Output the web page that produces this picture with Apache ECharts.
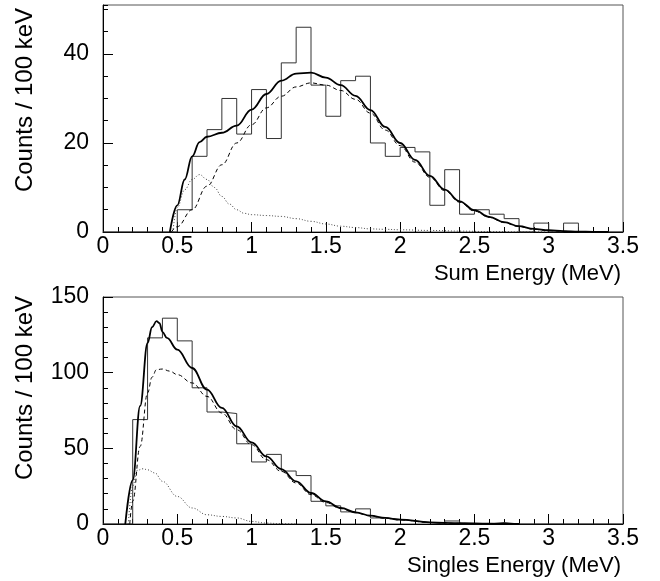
<!DOCTYPE html>
<html>
<head>
<meta charset="utf-8">
<script src="https://cdn.jsdelivr.net/npm/echarts@6/dist/echarts.min.js"></script>
<style>
  html, body { margin: 0; padding: 0; background: #fff; }
  #chart { width: 660px; height: 581px; }
</style>
</head>
<body>
<div id="chart"></div>
<script>
// Bin low edges (MeV), 100 keV wide, plus the final upper edge
const binEdges = [0, 0.1, 0.2, 0.3, 0.4, 0.5, 0.6, 0.7, 0.8, 0.9, 1.0, 1.1, 1.2, 1.3, 1.4, 1.5, 1.6, 1.7,
  1.8, 1.9, 2.0, 2.1, 2.2, 2.3, 2.4, 2.5, 2.6, 2.7, 2.8, 2.9, 3.0, 3.1, 3.2, 3.3, 3.4, 3.5];

// Sum-energy spectrum: counts per bin
const sumCounts = [0, 0, 0, 0, 0, 5, 17, 23, 30, 22, 32, 21, 38, 46, 33, 26, 34, 35,
  20, 17, 19, 18, 6, 14, 4, 5, 4, 3, 0, 2, 0, 2, 0, 0, 0];

// Singles-energy spectrum: counts per bin
const singlesCounts = [0, 0, 69, 123, 136, 121, 90, 74, 73, 53, 41, 46, 35, 32, 15, 12, 8, 10,
  4, 3, 2, 1, 0, 2, 0, 0, 1, 0, 0, 0, 0, 0, 0, 0, 0];

// Fit curves, sum energy: total, main component (dashed), second component (dotted)
const sumTotal = [[0.45, 0], [0.5, 6], [0.55, 11.8], [0.6, 17.0], [0.65, 20.2], [0.7, 21.4], [0.8, 22.3],
  [0.9, 23.9], [1.0, 27.5], [1.1, 31.0], [1.2, 34.0], [1.3, 35.6], [1.4, 35.8], [1.5, 34.7], [1.6, 33.0],
  [1.7, 30.6], [1.8, 27.4], [1.9, 23.6], [2.0, 20.0], [2.1, 16.2], [2.2, 12.6], [2.3, 9.5], [2.4, 6.9],
  [2.5, 4.9], [2.6, 3.4], [2.7, 2.2], [2.8, 1.3], [2.9, 0.7], [3.0, 0.4], [3.1, 0.2], [3.2, 0.1],
  [3.3, 0.05], [3.4, 0]];
const sumMain = [[0.46, 0], [0.5, 1.2], [0.6, 5.0], [0.7, 10.3], [0.8, 15.1], [0.9, 20.0], [1.0, 24.1],
  [1.1, 27.9], [1.2, 30.5], [1.3, 32.6], [1.4, 33.5], [1.5, 33.0], [1.6, 31.8], [1.7, 29.8], [1.8, 26.7],
  [1.9, 22.9], [2.0, 19.4], [2.1, 15.7], [2.2, 12.3], [2.3, 9.3], [2.4, 6.7], [2.5, 4.7], [2.6, 3.3],
  [2.7, 2.1], [2.8, 1.2], [2.9, 0.6], [3.0, 0.3], [3.1, 0.15], [3.2, 0.05], [3.3, 0]];
const sumSecond = [[0.47, 0], [0.5, 5.5], [0.55, 9.5], [0.6, 11.8], [0.65, 12.9], [0.7, 11.8], [0.75, 10.0],
  [0.8, 8.0], [0.85, 6.3], [0.9, 5.0], [0.95, 4.2], [1.0, 3.9], [1.1, 3.7], [1.2, 3.5], [1.3, 3.0],
  [1.4, 2.4], [1.5, 1.8], [1.6, 1.3], [1.7, 1.0], [1.8, 0.7], [1.9, 0.6], [2.0, 0.5], [2.2, 0.35],
  [2.4, 0.2], [2.6, 0.1], [2.8, 0.05], [3.0, 0]];

// Fit curves, singles energy
const singlesTotal = [[0.15, 0], [0.2, 29], [0.25, 78], [0.3, 119.6], [0.33, 130], [0.36, 134], [0.38, 132.8],
  [0.4, 127], [0.43, 123], [0.5, 115.2], [0.6, 103.1], [0.7, 88.8], [0.8, 76.7], [0.9, 64.5], [1.0, 53.9],
  [1.1, 44.7], [1.2, 36.3], [1.3, 28.2], [1.4, 20.5], [1.5, 14.9], [1.6, 10.6], [1.7, 7.7], [1.8, 5.5],
  [1.9, 4.0], [2.0, 2.9], [2.2, 1.1], [2.4, 0.5], [2.6, 0.2], [2.8, 0]];
const singlesMain = [[0.18, 0], [0.2, 15], [0.25, 51.3], [0.3, 86.6], [0.33, 97], [0.36, 102], [0.4, 102.4],
  [0.45, 101], [0.5, 98.7], [0.6, 93.2], [0.7, 84.3], [0.8, 73.4], [0.9, 62.3], [1.0, 52.4], [1.1, 42.5],
  [1.2, 34.8], [1.3, 27.1], [1.4, 19.4], [1.5, 14.2], [1.6, 10.2], [1.7, 7.4], [1.8, 5.3], [1.9, 3.8],
  [2.0, 2.7], [2.2, 1.0], [2.4, 0.4], [2.6, 0.15], [2.8, 0]];
const singlesSecond = [[0.17, 0], [0.2, 24.9], [0.23, 35.4], [0.27, 36.5], [0.3, 35.8], [0.35, 33.7],
  [0.4, 28.2], [0.5, 18.2], [0.6, 10.6], [0.7, 6.1], [0.8, 5.0], [0.9, 4.0], [1.0, 1.7], [1.1, 0.6],
  [1.2, 0.2], [1.3, 0]];

// Axis ranges and labels
const xRange = [0, 3.5];
const sumYMax = 51;
const singlesYMax = 150;
const xTitles = ['Sum Energy (MeV)', 'Singles Energy (MeV)'];
const yTitle = 'Counts / 100 keV';

const FONT = '"Liberation Sans", Arial, sans-serif';

function histData(counts) {
  const pts = counts.map((c, i) => [binEdges[i], c]);
  pts.push([binEdges[binEdges.length - 1], counts[counts.length - 1]]);
  return pts;
}

function xAxisFor(gridIndex) {
  return {
    type: 'value', gridIndex, min: xRange[0], max: xRange[1], interval: 0.5,
    axisLine: { show: true, lineStyle: { color: '#000', width: 1 } },
    axisTick: { show: true, inside: true, length: 10, lineStyle: { color: '#000' } },
    minorTick: { show: true, splitNumber: 5, length: 5, lineStyle: { color: '#000' } },
    axisLabel: { fontSize: 23, fontFamily: FONT, color: '#000', margin: 3 },
    splitLine: { show: false }, minorSplitLine: { show: false }
  };
}

function yMajor(gridIndex, max, interval) {
  return {
    type: 'value', gridIndex, min: 0, max, interval, position: 'left',
    axisLine: { show: true, lineStyle: { color: '#000', width: 1 } },
    axisTick: { show: true, inside: true, length: 10, lineStyle: { color: '#000' } },
    axisLabel: { fontSize: 23, fontFamily: FONT, color: '#000', margin: 14, showMaxLabel: max % interval === 0 },
    splitLine: { show: false }
  };
}

function yMinor(gridIndex, max, interval) {
  return {
    type: 'value', gridIndex, min: 0, max, interval, position: 'left',
    axisLine: { show: false },
    axisTick: { show: true, inside: true, length: 5, lineStyle: { color: '#000' } },
    axisLabel: { show: false },
    splitLine: { show: false }
  };
}

function lineSeries(xi, yi, data, style) {
  return {
    type: 'line', xAxisIndex: xi, yAxisIndex: yi, data,
    showSymbol: false, symbol: 'none', silent: true,
    smooth: 0.4, smoothMonotone: 'x',
    lineStyle: style, z: 3
  };
}

const solid = { color: '#000', width: 1.8, type: 'solid' };
const dashed = { color: '#000', width: 1, type: [4, 3] };
const dotted = { color: '#444', width: 1, type: [1, 2] };

const grids = [
  { left: 103, top: 5, width: 520, height: 227 },
  { left: 103, top: 297, width: 520, height: 227 }
].map(g => Object.assign(g, { show: true, borderColor: '#555', borderWidth: 1, backgroundColor: 'transparent' }));

const chart = echarts.init(document.getElementById('chart'), null, { renderer: 'canvas' });
chart.setOption({
  animation: false,
  backgroundColor: '#fff',
  grid: grids,
  xAxis: [xAxisFor(0), xAxisFor(1)],
  yAxis: [
    yMajor(0, sumYMax, 20), yMinor(0, sumYMax, 5),
    yMajor(1, singlesYMax, 50), yMinor(1, singlesYMax, 10)
  ],
  series: [
    {
      type: 'line', xAxisIndex: 0, yAxisIndex: 0, data: histData(sumCounts), step: 'end',
      showSymbol: false, symbol: 'none', silent: true,
      lineStyle: { color: '#333', width: 1 }, z: 2
    },
    lineSeries(0, 0, sumTotal, solid),
    lineSeries(0, 0, sumMain, dashed),
    lineSeries(0, 0, sumSecond, dotted),
    {
      type: 'line', xAxisIndex: 1, yAxisIndex: 2, data: histData(singlesCounts), step: 'end',
      showSymbol: false, symbol: 'none', silent: true,
      lineStyle: { color: '#333', width: 1 }, z: 2
    },
    lineSeries(1, 2, singlesTotal, solid),
    lineSeries(1, 2, singlesMain, dashed),
    lineSeries(1, 2, singlesSecond, dotted)
  ],
  graphic: [
    { type: 'text', x: 25, y: 100, rotation: Math.PI / 2,
      style: { text: yTitle, fontSize: 24, fontFamily: FONT, fill: '#000', align: 'center', verticalAlign: 'middle' } },
    { type: 'text', x: 25, y: 388, rotation: Math.PI / 2,
      style: { text: yTitle, fontSize: 24, fontFamily: FONT, fill: '#000', align: 'center', verticalAlign: 'middle' } },
    { type: 'text', x: 621, y: 274,
      style: { text: xTitles[0], fontSize: 22, fontFamily: FONT, fill: '#000', align: 'right', verticalAlign: 'middle' } },
    { type: 'text', x: 621, y: 566,
      style: { text: xTitles[1], fontSize: 22, fontFamily: FONT, fill: '#000', align: 'right', verticalAlign: 'middle' } }
  ]
});
</script>
</body>
</html>
